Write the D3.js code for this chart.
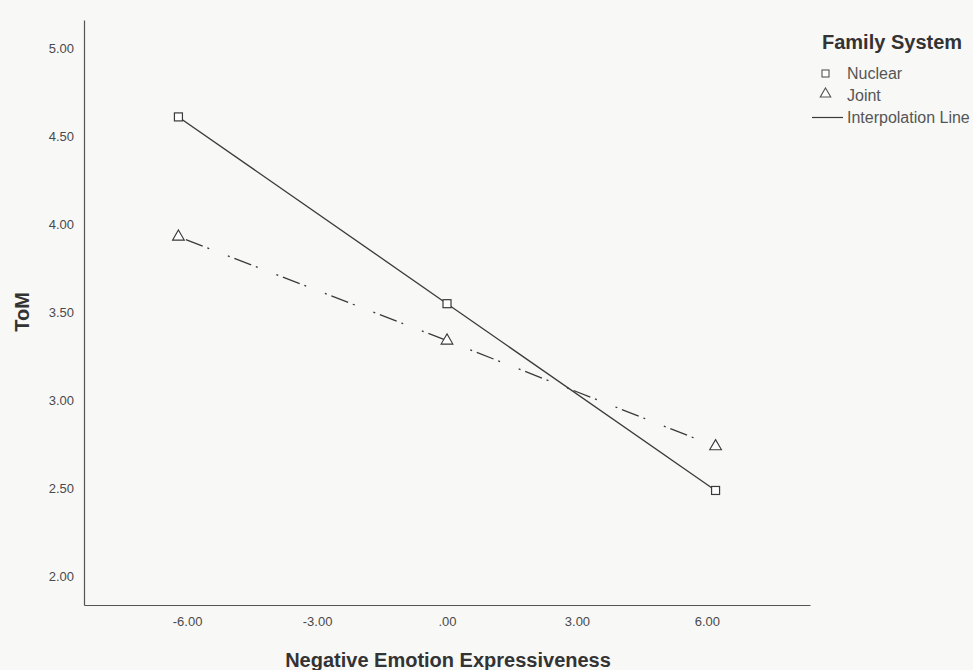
<!DOCTYPE html>
<html>
<head>
<meta charset="utf-8">
<script src="https://cdn.jsdelivr.net/npm/d3@7/dist/d3.min.js"></script>
<style>
  html, body { margin: 0; padding: 0; background: #f8f8f7; }
  svg { display: block; }
  text { font-family: "Liberation Sans", Arial, sans-serif; }
</style>
</head>
<body>
<script>
// Simple-slopes plot: ToM by Negative Emotion Expressiveness, per family system
const xLevels = [-6.2, 0, 6.2];
const nuclearValues = [4.61, 3.55, 2.49];
const jointValues = [3.93, 3.34, 2.74];
const xTicks = [-6, -3, 0, 3, 6];
const yTicks = [2.0, 2.5, 3.0, 3.5, 4.0, 4.5, 5.0];
const groups = ["Nuclear", "Joint"];
const lineLabel = "Interpolation Line";

const W = 973, H = 670;
const plot = { left: 84, right: 810, top: 20, bottom: 605 };

const svg = d3.select("body").append("svg").attr("width", W).attr("height", H);

const x = d3.scaleLinear().domain([-8.38, 8.38]).range([plot.left, plot.right]);
const y = d3.scaleLinear().domain([1.84, 5.16]).range([plot.bottom, plot.top]);

// SPSS-style labels: two decimals, no leading zero, ASCII hyphen for negatives
const fmt = v => {
  const s = Math.abs(v).toFixed(2).replace(/^0\./, ".");
  return (v < 0 ? "-" : "") + s;
};

// Axes drawn as plain lines, no tick marks
const xAxis = d3.axisBottom(x).tickValues(xTicks).tickSize(0).tickPadding(12).tickFormat(fmt);
const yAxis = d3.axisLeft(y).tickValues(yTicks).tickSize(0).tickPadding(10).tickFormat(fmt);

const gx = svg.append("g").attr("transform", `translate(0,${plot.bottom})`).call(xAxis);
const gy = svg.append("g").attr("transform", `translate(${plot.left},0)`).call(yAxis);
[gx, gy].forEach(g => {
  g.select(".domain").attr("stroke", "#555").attr("stroke-width", 1.2);
  g.selectAll(".tick text").attr("fill", "#4a4a4a").style("font-size", "13px")
    .style("font-family", "'Liberation Sans', Arial, sans-serif");
});

// Axis titles
svg.append("text")
  .attr("x", 448).attr("y", 667)
  .attr("text-anchor", "middle")
  .style("font-size", "20px").style("font-weight", "bold").attr("fill", "#333")
  .text("Negative Emotion Expressiveness");

svg.append("text")
  .attr("transform", `translate(29,312) rotate(-90)`)
  .attr("text-anchor", "middle")
  .style("font-size", "20px").style("font-weight", "bold").attr("fill", "#333")
  .text("ToM");

// Interpolation lines
const lineGen = d3.line().x(d => x(d[0])).y(d => y(d[1]));
const nuclearPts = xLevels.map((v, i) => [v, nuclearValues[i]]);
const jointPts = xLevels.map((v, i) => [v, jointValues[i]]);

svg.append("path").datum(nuclearPts).attr("d", lineGen)
  .attr("fill", "none").attr("stroke", "#3a3a3a").attr("stroke-width", 1.3);

svg.append("path").datum(jointPts).attr("d", lineGen)
  .attr("fill", "none").attr("stroke", "#3a3a3a").attr("stroke-width", 1.3)
  .attr("stroke-dasharray", "18,5,2,20,2,5").attr("stroke-dashoffset", -8);

// Markers
const sq = 8;
svg.selectAll(".nuc").data(nuclearPts).enter().append("rect")
  .attr("x", d => x(d[0]) - sq / 2).attr("y", d => y(d[1]) - sq / 2)
  .attr("width", sq).attr("height", sq)
  .attr("fill", "#fff").attr("stroke", "#3a3a3a").attr("stroke-width", 1.2);

const tri = d3.symbol().type(d3.symbolTriangle).size(60);
svg.selectAll(".joi").data(jointPts).enter().append("path")
  .attr("d", tri)
  .attr("transform", d => `translate(${x(d[0])},${y(d[1])})`)
  .attr("fill", "#fff").attr("stroke", "#3a3a3a").attr("stroke-width", 1.1);

// Legend
const lg = svg.append("g");
lg.append("text").attr("x", 822).attr("y", 49)
  .style("font-size", "20px").style("font-weight", "bold").attr("fill", "#333")
  .text("Family System");

lg.append("rect").attr("x", 822).attr("y", 70).attr("width", 7).attr("height", 7)
  .attr("fill", "#fff").attr("stroke", "#555").attr("stroke-width", 1.1);
lg.append("text").attr("x", 847).attr("y", 79).style("font-size", "16px").attr("fill", "#555")
  .text(groups[0]);

lg.append("path").attr("d", d3.symbol().type(d3.symbolTriangle).size(48))
  .attr("transform", "translate(825.5,94)")
  .attr("fill", "#fff").attr("stroke", "#555").attr("stroke-width", 1.1);
lg.append("text").attr("x", 847).attr("y", 101).style("font-size", "16px").attr("fill", "#555")
  .text(groups[1]);

lg.append("line").attr("x1", 812).attr("x2", 843).attr("y1", 117.5).attr("y2", 117.5)
  .attr("stroke", "#3a3a3a").attr("stroke-width", 1.2);
lg.append("text").attr("x", 847).attr("y", 123).style("font-size", "16px").attr("fill", "#555")
  .text(lineLabel);
</script>
</body>
</html>
